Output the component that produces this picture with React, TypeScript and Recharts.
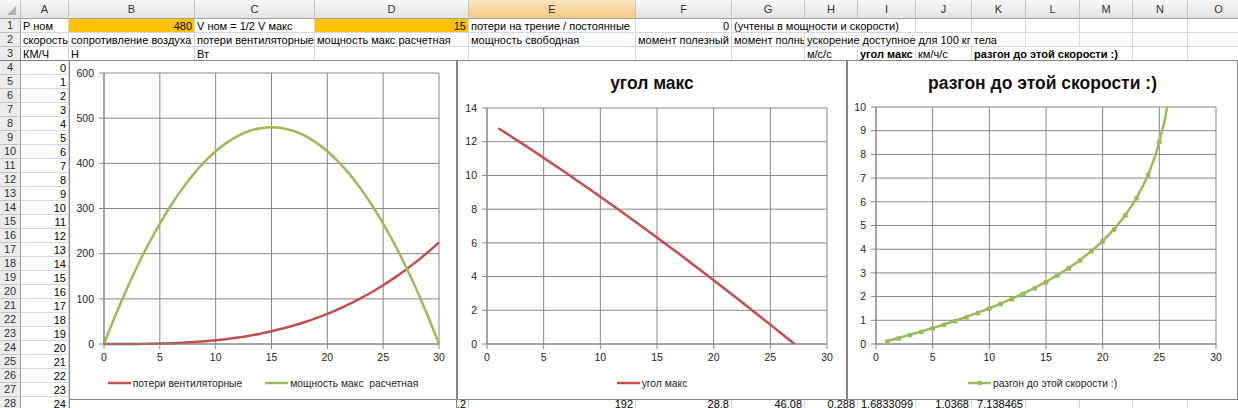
import React from 'react';
import { LineChart, Line, XAxis, YAxis, CartesianGrid, Legend } from 'recharts';

// ---------- data (read from the sheet / charts) ----------
const speedKmh = [0, 1, 2, 3, 4, 5, 6, 7, 8, 9, 10, 11, 12, 13, 14, 15, 16, 17, 18, 19, 20, 21, 22, 23, 24, 25, 26, 27, 28, 29, 30];
const fanLoss = [0, 0.01, 0.07, 0.23, 0.53, 1.04, 1.8, 2.86, 4.27, 6.08, 8.33, 11.09, 14.4, 18.31, 22.87, 28.13, 34.13, 40.94, 48.6, 57.16, 66.67, 77.18, 88.73, 101.39, 115.2, 130.21, 146.47, 164.03, 182.93, 203.24, 225];
const powerMax = [0, 61.87, 119.47, 172.8, 221.87, 266.67, 307.2, 343.47, 375.47, 403.2, 426.67, 445.87, 460.8, 471.47, 477.87, 480, 477.87, 471.47, 460.8, 445.87, 426.67, 403.2, 375.47, 343.47, 307.2, 266.67, 221.87, 172.8, 119.47, 61.87, 0];

const angleSpeeds = [1, 2, 3, 4, 5, 6, 7, 8, 9, 10, 11, 12, 13, 14, 15, 16, 17, 18, 19, 20, 21, 22, 23, 24, 25, 26, 27, 28, 29, 30];
const angleMax = [12.8, 12.37, 11.93, 11.49, 11.04, 10.59, 10.14, 9.67, 9.21, 8.74, 8.26, 7.78, 7.3, 6.81, 6.32, 5.82, 5.32, 4.81, 4.3, 3.78, 3.26, 2.74, 2.21, 1.68, 1.15, 0.61, 0.07, -0.48, -1.03, -1.58];

const accelSpeeds = [1, 2, 3, 4, 5, 6, 7, 8, 9, 10, 11, 12, 13, 14, 15, 16, 17, 18, 19, 20, 21, 22, 23, 24, 25, 26, 27];
const accelTime = [0.125, 0.254, 0.388, 0.528, 0.673, 0.824, 0.983, 1.149, 1.324, 1.509, 1.704, 1.911, 2.133, 2.37, 2.626, 2.904, 3.209, 3.546, 3.923, 4.352, 4.849, 5.441, 6.174, 7.138, 8.552, 11.213, 34.95];

const xTicks = [0, 5, 10, 15, 20, 25, 30];
const powerTicks = [0, 100, 200, 300, 400, 500, 600];
const angleTicks = [0, 2, 4, 6, 8, 10, 12, 14];
const timeTicks = [0, 1, 2, 3, 4, 5, 6, 7, 8, 9, 10];

const nameFan = 'потери вентиляторные';
const namePower = 'мощность макс\u00a0 расчетная';
const nameAngle = 'угол макс';
const nameAccel = 'разгон до этой скорости :)';

// ---------- sheet content ----------
const colEdges = [0, 21, 69, 195, 315, 469, 636, 732, 805, 858, 916, 972, 1026, 1080, 1133, 1188, 1250];
const colLetters = ['A', 'B', 'C', 'D', 'E', 'F', 'G', 'H', 'I', 'J', 'K', 'L', 'M', 'N', 'O'];
const rowNumbers = Array.from({ length: 28 }, (_, i) => i + 1);

type Cell = { r: number; c: number; t: string; right?: boolean; bold?: boolean; span?: number };
const cells: Cell[] = [
  { r: 1, c: 0, t: 'P ном' },
  { r: 1, c: 1, t: '480', right: true },
  { r: 1, c: 2, t: 'V ном = 1/2 V макс' },
  { r: 1, c: 3, t: '15', right: true },
  { r: 1, c: 4, t: 'потери на трение / постоянные' },
  { r: 1, c: 5, t: '0', right: true },
  { r: 1, c: 6, t: '(учтены в мощности и скорости)', span: 3 },
  { r: 2, c: 0, t: 'скорость' },
  { r: 2, c: 1, t: 'сопротивление воздуха' },
  { r: 2, c: 2, t: 'потери вентиляторные' },
  { r: 2, c: 3, t: 'мощность макс расчетная' },
  { r: 2, c: 4, t: 'мощность свободная' },
  { r: 2, c: 5, t: 'момент полезный' },
  { r: 2, c: 6, t: 'момент полный' },
  { r: 2, c: 7, t: 'ускорение доступное для 100 кг тела', span: 4 },
  { r: 3, c: 0, t: 'КМ/Ч' },
  { r: 3, c: 1, t: 'Н' },
  { r: 3, c: 2, t: 'Вт' },
  { r: 3, c: 7, t: 'м/с/с' },
  { r: 3, c: 8, t: 'угол макс', bold: true },
  { r: 3, c: 9, t: 'км/ч/с' },
  { r: 3, c: 10, t: 'разгон до этой скорости :)', bold: true, span: 3 },
  { r: 28, c: 3, t: '307.2', right: true },
  { r: 28, c: 4, t: '192', right: true },
  { r: 28, c: 5, t: '28.8', right: true },
  { r: 28, c: 6, t: '46.08', right: true },
  { r: 28, c: 7, t: '0.288', right: true },
  { r: 28, c: 8, t: '1.6833099', right: true },
  { r: 28, c: 9, t: '1.0368', right: true },
  { r: 28, c: 10, t: '7.138465', right: true },
];

const RED = '#C0504D';
const GREEN = '#9BBB59';
const GRID = '#868686';
const FONT = '"Liberation Sans", Arial, sans-serif';
const HEADER_H = 19;
const ROW_H = 14;
const rowTop = (r: number) => HEADER_H + (r - 1) * ROW_H;

const chart1Data = speedKmh.map((v, i) => ({ v, fan: fanLoss[i], pmax: powerMax[i] }));
const chart2Data = angleSpeeds.map((v, i) => ({ v, angle: angleMax[i] }));
const chart3Data = accelSpeeds.map((v, i) => ({ v, t: accelTime[i] }));

const tickStyle = { fill: '#1e1e1e', fontSize: 10.5, fontFamily: FONT };

const makeLegend = (order: string[], marker: boolean) => (props: any) => {
  const payload = [...(props.payload || [])].sort(
    (a: any, b: any) => order.indexOf(a.dataKey) - order.indexOf(b.dataKey)
  );
  return (
    <div style={{ display: 'flex', justifyContent: 'center', alignItems: 'center', height: 14, fontSize: 10.3, fontFamily: FONT, color: '#1e1e1e' }}>
      {payload.map((e: any, i: number) => (
        <div key={i} style={{ display: 'flex', alignItems: 'center', marginLeft: i ? 23 : 0 }}>
          <svg width={23} height={8} style={{ display: 'block' }}>
            <line x1={0} y1={4} x2={23} y2={4} stroke={e.color} strokeWidth={2.5} />
            {marker && <rect x={9.5} y={2} width={4} height={4} fill={e.color} />}
          </svg>
          <span style={{ marginLeft: 2, whiteSpace: 'pre' }}>{e.value}</span>
        </div>
      ))}
    </div>
  );
};

const squareDot = (p: any) => {
  const { cx, cy, index } = p;
  if (cx == null || cy == null) return <g key={`s${index}`} />;
  return <rect key={`s${index}`} x={cx - 2.2} y={cy - 1.8} width={4.5} height={4.5} fill={GREEN} />;
};

const xAxisProps = {
  dataKey: 'v',
  type: 'number' as const,
  domain: [0, 30],
  ticks: xTicks,
  interval: 0,
  tickSize: 5,
  tickMargin: 5,
  height: 30,
  axisLine: { stroke: GRID },
  tickLine: { stroke: GRID },
  tick: tickStyle,
};

const yAxisBase = {
  type: 'number' as const,
  interval: 0,
  tickSize: 5,
  tickMargin: 5,
  axisLine: { stroke: GRID },
  tickLine: { stroke: GRID },
  tick: tickStyle,
};

const boxStyle = (left: number, width: number): React.CSSProperties => ({
  position: 'absolute',
  left,
  top: 60,
  width,
  height: 340,
  boxSizing: 'border-box',
  border: `1px solid ${GRID}`,
  background: '#fff',
});

const titleStyle: React.CSSProperties = {
  position: 'absolute',
  left: 0,
  right: 0,
  top: 12,
  textAlign: 'center',
  fontFamily: FONT,
  fontWeight: 'bold',
  fontSize: 17.5,
  lineHeight: '20px',
  color: '#111',
  zIndex: 2,
};

export default function App() {
  return (
    <div style={{ position: 'absolute', left: 0, top: 0, width: 1238, height: 408, overflow: 'hidden', background: '#fff', fontFamily: FONT }}>
      {/* column header row */}
      {colLetters.map((L, i) => (
        <div
          key={L}
          style={{
            position: 'absolute',
            left: colEdges[i + 1],
            top: 0,
            width: colEdges[i + 2] - colEdges[i + 1],
            height: HEADER_H,
            boxSizing: 'border-box',
            borderRight: '1px solid #c5c5c5',
            borderBottom: '1px solid #9f9f9f',
            background: L === 'E' ? 'linear-gradient(#fbe6bd, #f3c983)' : 'linear-gradient(#f8f8f8, #e4e4e4)',
            textAlign: 'center',
            fontSize: 11,
            lineHeight: '19px',
            color: '#333',
          }}
        >
          {L}
        </div>
      ))}
      <div style={{ position: 'absolute', left: 0, top: 0, width: 21, height: HEADER_H, boxSizing: 'border-box', borderRight: '1px solid #c5c5c5', borderBottom: '1px solid #9f9f9f', background: 'linear-gradient(#f8f8f8, #e4e4e4)' }}>
        <svg width={20} height={18} style={{ display: 'block' }}>
          <polygon points="16,6 16,15 7,15" fill="#b4b4b4" />
        </svg>
      </div>
      {/* row headers */}
      {rowNumbers.map((n) => (
        <div
          key={n}
          style={{
            position: 'absolute',
            left: 0,
            top: rowTop(n),
            width: 21,
            height: ROW_H,
            boxSizing: 'border-box',
            borderRight: '1px solid #9f9f9f',
            borderBottom: '1px solid #c5c5c5',
            background: '#ececec',
            textAlign: 'center',
            fontSize: 11,
            lineHeight: '13px',
            color: '#333',
          }}
        >
          {n}
        </div>
      ))}
      {/* gridlines */}
      {colEdges.slice(2).map((x, i) => (
        <div key={`v${i}`} style={{ position: 'absolute', left: x - 1, top: HEADER_H, width: 1, height: 408, background: '#d0d7e5' }} />
      ))}
      {rowNumbers.map((n) => (
        <div key={`h${n}`} style={{ position: 'absolute', left: 21, top: rowTop(n) + ROW_H - 1, width: 1238, height: 1, background: '#d0d7e5' }} />
      ))}
      {/* orange input cells */}
      <div style={{ position: 'absolute', left: colEdges[2], top: rowTop(1), width: colEdges[3] - colEdges[2] - 1, height: ROW_H - 1, background: '#ffc000' }} />
      <div style={{ position: 'absolute', left: colEdges[4], top: rowTop(1), width: colEdges[5] - colEdges[4] - 1, height: ROW_H - 1, background: '#ffc000' }} />
      {/* A column speeds */}
      {speedKmh.slice(0, 25).map((v, i) => (
        <div key={`a${i}`} style={{ position: 'absolute', left: colEdges[1], top: rowTop(i + 4), width: colEdges[2] - colEdges[1] - 3, height: ROW_H, textAlign: 'right', fontSize: 11, lineHeight: '14px', color: '#000' }}>
          {v}
        </div>
      ))}
      {/* text cells */}
      {cells.map((c, i) => {
        const left = colEdges[c.c + 1];
        const right = colEdges[c.c + 1 + (c.span || 1)];
        return (
          <div
            key={`c${i}`}
            style={{
              position: 'absolute',
              left: c.right ? left : left + 2,
              top: rowTop(c.r),
              width: right - left - 3,
              height: ROW_H - 1,
              overflow: 'hidden',
              whiteSpace: 'nowrap',
              textAlign: c.right ? 'right' : 'left',
              fontWeight: c.bold ? 'bold' : 'normal',
              fontSize: 11,
              lineHeight: '14px',
              color: '#000',
              background: c.span ? '#fff' : 'transparent',
            }}
          >
            {c.t}
          </div>
        );
      })}
      {/* freeze pane line */}
      <div style={{ position: 'absolute', left: 0, top: 60, width: 1238, height: 1, background: '#7f7f7f' }} />

      {/* chart 1 extension below */}
      <div style={{ position: 'absolute', left: 69, top: 399, width: 388, height: 12, boxSizing: 'border-box', borderLeft: `1px solid ${GRID}`, borderRight: `1px solid ${GRID}`, background: '#fff' }} />

      {/* chart 1 */}
      <div style={boxStyle(69, 388)}>
        <LineChart width={386} height={338} data={chart1Data} margin={{ top: 12, right: 17, bottom: 25, left: 0 }}>
          <CartesianGrid stroke={GRID} />
          <XAxis {...xAxisProps} />
          <YAxis {...yAxisBase} domain={[0, 600]} ticks={powerTicks} width={34} />
          <Legend verticalAlign="middle" align="center" wrapperStyle={{ top: 315, left: 0, width: 386 }} content={makeLegend(['fan', 'pmax'], false)} />
          <Line type="monotone" dataKey="fan" name={nameFan} stroke={RED} strokeWidth={2.5} dot={false} isAnimationActive={false} />
          <Line type="monotone" dataKey="pmax" name={namePower} stroke={GREEN} strokeWidth={2.5} dot={false} isAnimationActive={false} />
        </LineChart>
      </div>

      {/* chart 2 */}
      <div style={boxStyle(457, 390)}>
        <div style={titleStyle}>угол макс</div>
        <LineChart width={388} height={338} data={chart2Data} margin={{ top: 47, right: 19, bottom: 25, left: 0 }}>
          <CartesianGrid stroke={GRID} />
          <XAxis {...xAxisProps} />
          <YAxis {...yAxisBase} domain={[0, 14]} ticks={angleTicks} width={29} allowDataOverflow />
          <Legend verticalAlign="middle" align="center" wrapperStyle={{ top: 315, left: 0, width: 388 }} content={makeLegend(['angle'], false)} />
          <Line type="linear" dataKey="angle" name={nameAngle} stroke={RED} strokeWidth={2.5} dot={false} isAnimationActive={false} />
        </LineChart>
      </div>

      {/* chart 3 */}
      <div style={boxStyle(847, 391)}>
        <div style={titleStyle}>разгон до этой скорости :)</div>
        <LineChart width={389} height={338} data={chart3Data} margin={{ top: 46, right: 21, bottom: 25, left: 0 }}>
          <CartesianGrid stroke={GRID} />
          <XAxis {...xAxisProps} />
          <YAxis {...yAxisBase} domain={[0, 10]} ticks={timeTicks} width={28} allowDataOverflow />
          <Legend verticalAlign="middle" align="center" wrapperStyle={{ top: 315, left: 0, width: 389 }} content={makeLegend(['t'], true)} />
          <Line type="monotone" dataKey="t" name={nameAccel} stroke={GREEN} strokeWidth={2.5} dot={squareDot} isAnimationActive={false} />
        </LineChart>
      </div>
    </div>
  );
}
